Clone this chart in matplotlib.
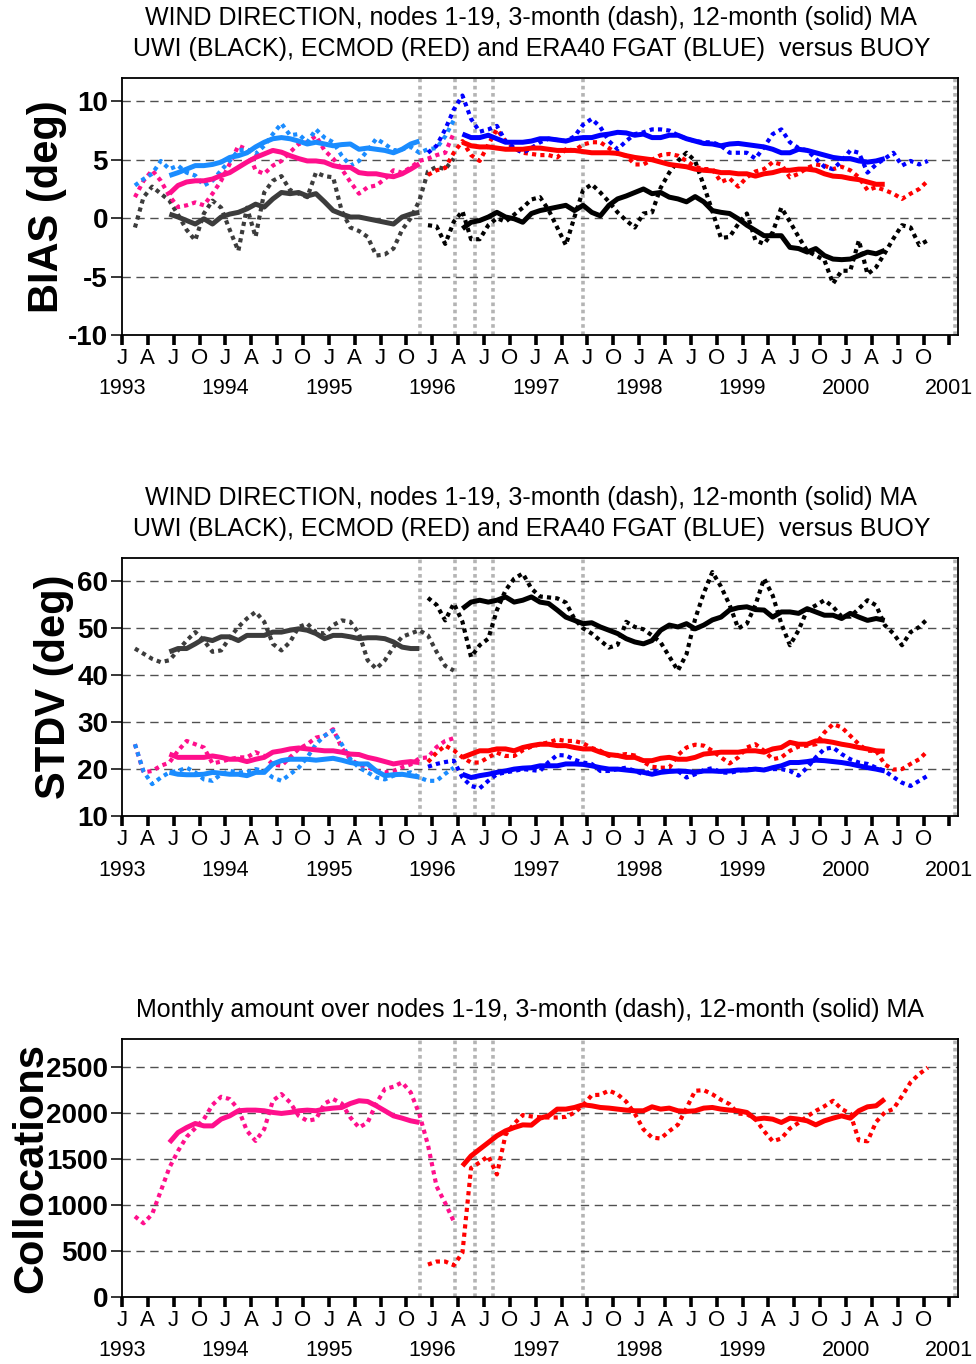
import numpy as np
import matplotlib
matplotlib.use("Agg")
import matplotlib.pyplot as plt

plt.rcParams['font.family'] = ['Liberation Sans', 'DejaVu Sans']

# Month index 0 = January 1993; monthly values are drawn at mid-month.
EARLY_3M_START = 1    # Feb 1993
EARLY_12M_START = 5   # Jun 1993
LATE_3M_START = 35    # Dec 1995
LATE_12M_START = 39   # Apr 1996

# ---------------- BIAS (deg) ----------------
bias_uwi_early_3m = [-0.8, 1.8, 2.7, 2.1, 1.5, 0.3, -1.0, -1.9, 0.4, 1.5, 0.9, -1.0, -2.8, 0.9, -1.6,
                     2.2, 3.2, 3.6, 2.4, 2.1, 1.8, 3.9, 3.6, 3.5, 0.6, -0.8, -1.1, -1.6, -3.2, -3.1,
                     -2.6, -1.0, 0.0, 1.5, 4.0, 4.4, 4.2, 5.1]
bias_era_early_3m = [2.8, 3.35, 3.8, 4.9, 4.2, 4.5, 3.9, 3.65, 2.8, 3.2, 4.1, 4.9, 5.8, 5.9, 5.5,
                     6.2, 7.2, 8.1, 7.1, 7.2, 6.5, 7.6, 6.9, 6.5, 5.35, 4.5, 4.9, 5.8, 6.8, 6.35,
                     5.8, 5.9, 6.1, 5.6, 5.9, 6.0, 7.0, 8.4]
bias_ecm_early_3m = [1.8, 3.2, 4.1, 3.2, 1.9, 0.95, 1.1, 1.35, 1.1, 2.1, 3.2, 4.65, 6.2, 5.9, 4.1,
                     3.8, 4.5, 4.9, 5.65, 6.35, 6.5, 7.05, 5.8, 5.1, 4.2, 3.1, 2.1, 2.65, 2.8, 3.35,
                     4.1, 3.9, 4.35, 4.9, 5.1, 5.4, 5.6, 7.3]
bias_uwi_early_12m = [0.35, 0.1, -0.2, -0.5, -0.05, -0.5, 0.1, 0.35, 0.5, 0.8, 1.2, 0.95, 1.65, 2.2, 2.1,
                      2.2, 1.9, 2.1, 1.4, 0.65, 0.35, 0.1, 0.1, -0.05, -0.2, -0.35, -0.5, 0.1, 0.35, 0.5]
bias_era_early_12m = [3.65, 3.9, 4.2, 4.5, 4.5, 4.6, 4.8, 5.2, 5.35, 5.6, 6.1, 6.5, 6.8, 6.9, 6.8,
                      6.6, 6.35, 6.5, 6.35, 6.2, 6.3, 6.35, 5.9, 6.0, 5.9, 5.8, 5.6, 5.9, 6.35, 6.6]
bias_ecm_early_12m = [2.1, 2.8, 3.1, 3.2, 3.2, 3.35, 3.65, 3.9, 4.35, 4.8, 5.2, 5.5, 5.8, 5.65, 5.35,
                      5.1, 4.9, 4.9, 4.8, 4.5, 4.35, 4.35, 3.9, 3.8, 3.8, 3.65, 3.55, 3.8, 4.2, 4.65]
bias_uwi_late_3m = [-0.6, -0.7, -2.2, -0.3, 0.6, -1.8, -1.8, -0.6, 0.0, -0.3, 0.3, 0.9, 1.6, 1.8, 0.7,
                    -0.8, -2.3, 0.1, 2.4, 2.9, 2.2, 1.4, 0.5, -0.2, -0.8, 0.4, 0.5, 2.6, 3.9, 4.9,
                    5.6, 4.9, 2.8, 0.6, -1.7, -1.6, -0.5, 0.4, -1.9, -2.2, -1.2, 0.9, -0.3, -1.6, -2.8,
                    -3.2, -3.6, -5.6, -4.5, -4.5, -1.9, -4.8, -4.2, -3.0, -1.75, -0.6, -0.8, -2.3, -1.9]
bias_era_late_3m = [5.6, 6.2, 7.6, 9.3, 10.5, 8.5, 7.4, 7.6, 7.9, 6.6, 6.0, 5.6, 6.0, 6.5, 6.8,
                    6.7, 6.6, 7.0, 8.0, 8.5, 7.8, 6.6, 5.9, 6.6, 7.2, 7.35, 7.6, 7.6, 7.5, 7.1,
                    6.8, 6.6, 6.5, 6.5, 6.2, 5.6, 5.6, 5.6, 5.1, 6.1, 7.2, 7.6, 6.5, 6.0, 5.8,
                    5.1, 4.4, 4.2, 4.9, 5.8, 5.6, 3.9, 4.6, 5.1, 5.6, 4.5, 4.9, 4.6, 4.9]
bias_ecm_late_3m = [3.7, 4.1, 4.3, 5.6, 6.6, 5.4, 4.9, 6.3, 7.6, 6.6, 6.0, 5.6, 5.5, 5.4, 5.4,
                    5.2, 5.9, 5.8, 6.3, 6.5, 6.5, 6.0, 5.5, 5.35, 4.6, 4.6, 5.0, 5.4, 5.5, 5.35,
                    4.9, 4.4, 4.2, 4.2, 3.1, 3.4, 2.7, 3.5, 4.0, 4.2, 4.8, 4.6, 3.5, 3.8, 4.3,
                    4.6, 4.5, 4.2, 4.4, 4.1, 3.5, 2.4, 2.65, 2.4, 2.1, 1.65, 2.1, 2.5, 3.2]
bias_uwi_late_12m = [-0.9, -0.35, -0.2, 0.1, 0.5, 0.1, -0.05, -0.35, 0.4, 0.65, 0.8, 0.95, 1.1, 0.65, 1.1,
                     0.5, 0.2, 1.1, 1.65, 1.9, 2.2, 2.5, 2.1, 2.2, 1.8, 1.65, 1.4, 1.85, 1.4, 0.65,
                     0.5, 0.4, -0.05, -0.6, -1.05, -1.5, -1.5, -1.5, -2.5, -2.6, -2.9, -2.6, -3.2, -3.5, -3.55,
                     -3.5, -3.2, -2.9, -3.05, -2.75]
bias_era_late_12m = [7.2, 6.9, 6.9, 7.1, 6.8, 6.5, 6.5, 6.5, 6.6, 6.8, 6.8, 6.7, 6.6, 6.8, 6.9,
                     6.9, 7.1, 7.2, 7.35, 7.3, 7.1, 7.2, 6.9, 6.9, 7.1, 7.1, 6.8, 6.6, 6.4, 6.35,
                     6.2, 6.35, 6.4, 6.3, 6.2, 6.1, 5.9, 5.6, 5.6, 5.9, 5.8, 5.6, 5.4, 5.2, 5.1,
                     5.1, 4.9, 4.8, 4.9, 5.1]
bias_ecm_late_12m = [6.5, 6.2, 6.1, 6.1, 6.0, 5.9, 5.9, 5.9, 6.0, 6.0, 5.9, 5.8, 5.8, 5.8, 5.7,
                     5.6, 5.6, 5.6, 5.55, 5.35, 5.2, 5.1, 5.0, 4.8, 4.6, 4.5, 4.4, 4.2, 4.1, 4.05,
                     3.9, 3.9, 3.8, 3.8, 3.6, 3.8, 3.9, 4.1, 4.1, 4.2, 4.2, 4.1, 3.8, 3.6, 3.55,
                     3.4, 3.3, 3.1, 2.9, 2.9]

# ---------------- STDV (deg) ----------------
stdv_uwi_early_3m = [45.7, 44.6, 43.5, 42.8, 43.2, 45.3, 47.4, 49.2, 47.4, 45.0, 45.3, 48.0, 50.3, 52.1, 53.5,
                     51.4, 46.7, 45.3, 47.1, 50.3, 51.0, 49.2, 48.9, 50.7, 51.7, 51.4, 48.9, 43.2, 41.4, 43.2,
                     46.0, 48.2, 48.9, 49.6, 48.5, 45.0, 42.0, 41.0]
stdv_era_early_3m = [25.3, 19.5, 16.8, 18.2, 19.3, 19.6, 20.3, 19.3, 17.8, 17.5, 18.9, 19.6, 19.3, 19.3, 20.0,
                     19.6, 18.2, 17.5, 18.9, 20.3, 22.5, 25.3, 27.1, 28.2, 25.3, 22.1, 20.3, 19.3, 18.2, 17.8,
                     18.6, 18.9, 19.3, 18.2, 17.5, 17.5, 19.0, 20.3]
stdv_ecm_early_3m = [25.3, 19.3, 19.6, 20.7, 21.4, 23.9, 26.0, 25.3, 24.6, 21.2, 21.6, 22.1, 22.5, 22.5, 23.6,
                     22.8, 21.0, 20.7, 22.5, 24.3, 25.3, 26.7, 27.1, 28.5, 24.5, 22.1, 20.9, 20.4, 19.6, 19.3,
                     19.6, 20.4, 21.0, 22.3, 22.5, 24.7, 26.0, 26.6]
stdv_uwi_early_12m = [45.0, 45.7, 45.7, 46.7, 47.8, 47.4, 48.2, 48.2, 47.4, 48.5, 48.5, 48.5, 49.2, 49.2, 49.6,
                      49.9, 49.6, 48.9, 47.8, 48.5, 48.5, 48.2, 47.8, 48.0, 48.0, 47.8, 47.1, 46.0, 45.7, 45.7]
stdv_era_early_12m = [19.3, 18.9, 18.8, 18.8, 18.9, 19.3, 19.1, 18.9, 18.9, 18.6, 19.3, 19.3, 21.1, 21.8, 22.1,
                      22.1, 22.1, 21.9, 22.1, 22.3, 21.9, 21.4, 21.1, 21.1, 19.6, 18.6, 18.8, 18.9, 18.6, 18.3]
stdv_ecm_early_12m = [23.2, 22.5, 22.5, 22.5, 22.5, 22.8, 22.5, 22.1, 22.1, 21.6, 22.1, 22.5, 23.6, 23.9, 24.3,
                      24.5, 24.3, 24.1, 23.9, 23.9, 23.6, 23.2, 23.1, 22.5, 22.1, 21.6, 21.1, 21.4, 21.6, 21.4]
stdv_uwi_late_3m = [56.5, 55.0, 51.7, 55.3, 51.4, 43.9, 46.4, 47.8, 53.9, 58.1, 60.6, 61.7, 58.5, 56.8, 56.6,
                    56.4, 55.5, 52.0, 50.0, 48.9, 47.4, 45.9, 46.5, 51.4, 50.3, 49.8, 48.5, 47.0, 44.0, 41.0,
                    44.5, 52.0, 57.5, 62.0, 58.9, 55.0, 50.0, 51.0, 55.0, 60.6, 57.0, 51.0, 46.4, 49.6, 53.9,
                    54.9, 56.0, 54.6, 52.5, 52.5, 54.2, 56.0, 54.9, 50.7, 48.9, 46.4, 49.2, 50.3, 52.1]
stdv_era_late_3m = [20.5, 21.1, 21.5, 21.8, 18.2, 16.4, 15.9, 17.5, 18.9, 19.3, 19.6, 20.0, 19.8, 19.6, 21.5,
                    23.0, 22.9, 22.0, 21.4, 21.1, 19.6, 19.6, 20.0, 20.3, 19.6, 18.9, 19.6, 19.6, 19.6, 19.6,
                    18.2, 18.9, 19.8, 20.2, 19.3, 19.2, 19.6, 20.0, 20.0, 20.0, 20.0, 20.0, 19.6, 18.6, 20.3,
                    22.5, 24.3, 24.6, 23.2, 22.1, 21.4, 21.1, 20.3, 19.6, 18.3, 17.1, 16.4, 17.5, 18.6]
stdv_ecm_late_3m = [21.5, 23.5, 25.0, 24.0, 22.5, 21.4, 21.4, 22.5, 23.5, 22.8, 22.8, 24.0, 24.8, 25.3, 25.7,
                    26.3, 26.0, 26.0, 25.5, 24.5, 23.9, 22.8, 23.0, 23.2, 22.9, 21.5, 20.5, 20.3, 20.3, 23.0,
                    24.6, 25.2, 25.0, 23.9, 22.5, 21.2, 22.5, 24.6, 25.3, 23.9, 22.1, 22.5, 23.9, 24.8, 25.0,
                    25.3, 27.8, 29.6, 28.9, 27.1, 25.3, 23.9, 23.9, 21.0, 19.9, 20.0, 21.1, 22.1, 23.9]
stdv_uwi_late_12m = [54.2, 55.6, 56.0, 55.6, 56.0, 56.7, 55.6, 56.0, 56.7, 55.6, 55.3, 53.9, 52.4, 51.7, 51.0,
                     51.2, 50.3, 49.6, 48.9, 47.8, 47.1, 46.7, 47.4, 49.6, 50.7, 50.3, 51.0, 49.9, 50.7, 51.8,
                     52.4, 53.9, 54.4, 54.6, 54.0, 53.9, 52.4, 53.5, 53.5, 53.2, 54.2, 53.5, 52.8, 52.8, 52.1,
                     53.2, 52.4, 51.7, 52.1, 51.7]
stdv_era_late_12m = [18.9, 18.2, 18.6, 18.9, 19.3, 19.6, 20.0, 20.2, 20.3, 20.7, 20.7, 20.7, 21.1, 21.1, 21.0,
                     20.7, 20.3, 20.0, 20.0, 19.8, 19.6, 19.3, 18.9, 19.3, 19.5, 19.6, 19.5, 19.3, 19.6, 19.6,
                     19.5, 19.6, 19.8, 19.8, 20.0, 19.8, 20.3, 20.7, 21.4, 21.4, 21.6, 21.9, 21.8, 21.6, 21.4,
                     21.1, 20.7, 20.3, 20.0, 19.6]
stdv_ecm_late_12m = [22.5, 23.2, 23.9, 23.9, 24.3, 24.3, 23.9, 24.6, 25.0, 25.3, 25.3, 25.0, 25.0, 24.6, 24.3,
                     24.3, 23.6, 23.1, 22.9, 22.5, 22.5, 21.8, 21.8, 22.3, 22.5, 22.1, 22.1, 22.5, 23.2, 23.4,
                     23.6, 23.6, 23.6, 23.9, 23.9, 23.6, 24.3, 24.6, 25.7, 25.3, 25.3, 26.0, 26.0, 25.7, 25.3,
                     25.0, 24.6, 24.3, 23.9, 23.8]

# ---------------- Collocations ----------------
coll_early_3m = [875, 800, 900, 1150, 1404, 1585, 1738, 1832, 1930, 2086, 2173, 2148, 2039, 1803, 1694,
                 1821, 2130, 2202, 2112, 1966, 1912, 1930, 2100, 2148, 2100, 1948, 1839, 1894, 2100, 2257,
                 2282, 2329, 2220, 1985, 1650, 1200, 1020, 820]
coll_early_12m = [1676, 1785, 1839, 1883, 1857, 1857, 1930, 1966, 2021, 2028, 2028, 2021, 2003, 1992, 2003,
                  2021, 2028, 2021, 2039, 2050, 2057, 2100, 2130, 2122, 2075, 2021, 1966, 1941, 1912, 1894]
coll_late_3m = [352, 385, 385, 345, 480, 1400, 1460, 1530, 1330, 1760, 1880, 1975, 1960, 1950, 1948,
                1948, 1955, 2000, 2080, 2190, 2195, 2240, 2200, 2120, 1990, 1820, 1730, 1720, 1800, 1870,
                2050, 2238, 2245, 2200, 2140, 2093, 1990, 1985, 1930, 1800, 1690, 1720, 1830, 1890, 1960,
                2020, 2070, 2130, 2040, 1990, 1700, 1690, 1900, 2003, 2040, 2180, 2330, 2420, 2490]
coll_late_12m = [1422, 1531, 1604, 1676, 1749, 1803, 1839, 1868, 1865, 1941, 1966, 2039, 2039, 2057, 2086,
                 2075, 2057, 2050, 2039, 2028, 2021, 2021, 2064, 2039, 2050, 2021, 2014, 2021, 2050, 2057,
                 2039, 2028, 2021, 2003, 1930, 1941, 1930, 1894, 1941, 1930, 1912, 1868, 1912, 1941, 1966,
                 1941, 2021, 2064, 2075, 2148]

# Data-change events (months since Jan 1993)
event_months = [34.6, 38.6, 41.0, 43.0, 53.5, 96.6]

quarter_labels = ['J', 'A', 'J', 'O']
years = list(range(1993, 2002))

# colours: early period / later period
C_UWI = ('#3c3c3c', '#000000')
C_ECM = ('#ff0f8c', '#ff0000')
C_ERA = ('#1a8cff', '#0000ff')

TITLE_WIND_1 = 'WIND DIRECTION, nodes 1-19, 3-month (dash), 12-month (solid) MA'
TITLE_WIND_2 = 'UWI (BLACK), ECMOD (RED) and ERA40 FGAT (BLUE)  versus BUOY'
TITLE_COLL = 'Monthly amount over nodes 1-19, 3-month (dash), 12-month (solid) MA'

W, H = 976, 1364
fig = plt.figure(figsize=(W / 100, H / 100), dpi=100)


def px_axes(top, bottom, left=122, right=958):
    return fig.add_axes([left / W, 1 - bottom / H, (right - left) / W, (bottom - top) / H])


def mid(start, vals):
    return np.arange(start, start + len(vals)) + 0.5


DOT = (0, (1, 1))
LW_DOT = 3.0
LW_SOLID = 3.6


def draw_dotted(ax, e3, l3, colors):
    ce, cl = colors
    ax.plot(mid(EARLY_3M_START, e3), e3, color=ce, lw=LW_DOT, ls=DOT, zorder=3)
    ax.plot(mid(LATE_3M_START, l3), l3, color=cl, lw=LW_DOT, ls=DOT, zorder=3)


def draw_solid(ax, e12, l12, colors):
    ce, cl = colors
    ax.plot(mid(EARLY_12M_START, e12), e12, color=ce, lw=LW_SOLID, solid_capstyle='butt',
            solid_joinstyle='round', zorder=4)
    ax.plot(mid(LATE_12M_START, l12), l12, color=cl, lw=LW_SOLID, solid_capstyle='butt',
            solid_joinstyle='round', zorder=4)


def style_axes(ax, ylim, yticks):
    ax.set_xlim(0, 97)
    ax.set_ylim(*ylim)
    for m in event_months:
        ax.axvline(m, color='#b4b4b4', lw=2.6, ls=DOT, zorder=1)
    for y in yticks[1:]:
        ax.axhline(y, color='#505050', lw=1.0, ls=(0, (6, 4)), zorder=2)
    ax.set_yticks(yticks)
    ax.set_yticklabels([str(v) for v in yticks], fontsize=20, fontweight='bold')
    xt = np.arange(0, 97, 3)
    ax.set_xticks(xt)
    labels = [quarter_labels[i % 4] for i in range(len(xt))]
    labels[-1] = ''
    ax.set_xticklabels(labels, fontsize=16)
    ax.tick_params(axis='x', direction='out', length=7.2, width=2.6, pad=2, color='black')
    ax.tick_params(axis='y', direction='out', length=8, width=1.1, pad=2)
    for s in ax.spines.values():
        s.set_linewidth(1.3)
    for i, yr in enumerate(years):
        ax.annotate(str(yr), xy=(12 * i, 0), xycoords=('data', 'axes fraction'),
                    xytext=(0, -54), textcoords='offset pixels',
                    ha='center', va='center', fontsize=15.5)


# Panel 1: bias
ax1 = px_axes(78, 335)
style_axes(ax1, (-10, 12), [-10, -5, 0, 5, 10])
draw_dotted(ax1, bias_uwi_early_3m, bias_uwi_late_3m, C_UWI)
draw_dotted(ax1, bias_ecm_early_3m, bias_ecm_late_3m, C_ECM)
draw_dotted(ax1, bias_era_early_3m, bias_era_late_3m, C_ERA)
draw_solid(ax1, bias_uwi_early_12m, bias_uwi_late_12m, C_UWI)
draw_solid(ax1, bias_ecm_early_12m, bias_ecm_late_12m, C_ECM)
draw_solid(ax1, bias_era_early_12m, bias_era_late_12m, C_ERA)

# Panel 2: standard deviation
ax2 = px_axes(558, 816)
style_axes(ax2, (10, 65), [10, 20, 30, 40, 50, 60])
draw_dotted(ax2, stdv_uwi_early_3m, stdv_uwi_late_3m, C_UWI)
draw_dotted(ax2, stdv_ecm_early_3m, stdv_ecm_late_3m, C_ECM)
draw_dotted(ax2, stdv_era_early_3m, stdv_era_late_3m, C_ERA)
draw_solid(ax2, stdv_uwi_early_12m, stdv_uwi_late_12m, C_UWI)
draw_solid(ax2, stdv_ecm_early_12m, stdv_ecm_late_12m, C_ECM)
draw_solid(ax2, stdv_era_early_12m, stdv_era_late_12m, C_ERA)

# Panel 3: collocations
ax3 = px_axes(1039, 1297)
style_axes(ax3, (0, 2800), [0, 500, 1000, 1500, 2000, 2500])
draw_dotted(ax3, coll_early_3m, coll_late_3m, C_ECM)
draw_solid(ax3, coll_early_12m, coll_late_12m, C_ECM)


# Titles and axis labels
def ftext(x, y, s, **kw):
    fig.text(x / W, 1 - y / H, s, **kw)


ftext(531, 18, TITLE_WIND_1, ha='center', va='center', fontsize=18)
ftext(532, 49, TITLE_WIND_2, ha='center', va='center', fontsize=18)
ftext(531, 498, TITLE_WIND_1, ha='center', va='center', fontsize=18)
ftext(532, 529, TITLE_WIND_2, ha='center', va='center', fontsize=18)
ftext(530, 1010, TITLE_COLL, ha='center', va='center', fontsize=18)

ftext(47, 207, 'BIAS (deg)', rotation=90, ha='center', va='center', fontsize=30, fontweight='bold')
ftext(54, 687, 'STDV (deg)', rotation=90, ha='center', va='center', fontsize=30, fontweight='bold')
ftext(31, 1168, 'Collocations', rotation=90, ha='center', va='center', fontsize=30, fontweight='bold')

fig.savefig('out.png', dpi=100)
